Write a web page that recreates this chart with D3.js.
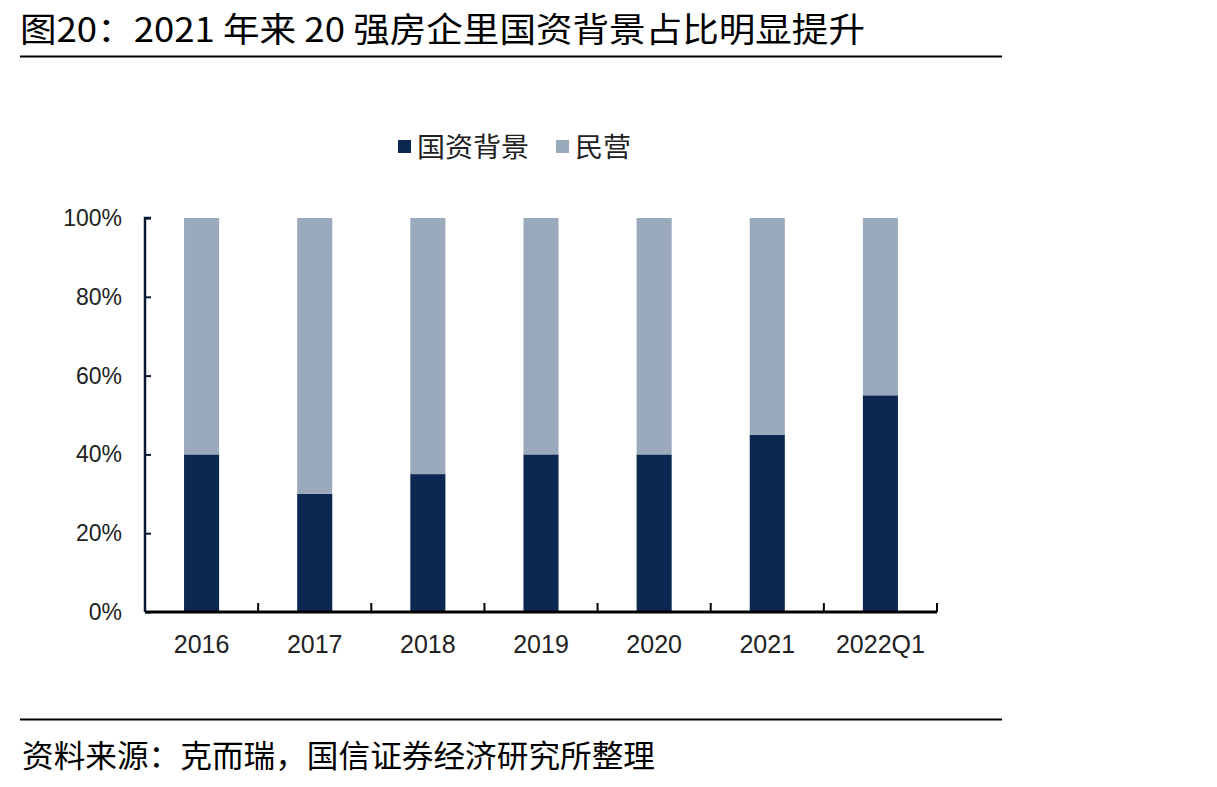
<!DOCTYPE html>
<html>
<head>
<meta charset="utf-8">
<script src="https://cdn.jsdelivr.net/npm/d3@7"></script>
<style>
  html, body { margin: 0; padding: 0; background: #fff; }
  svg { display: block; }
</style>
</head>
<body>
<svg id="chart"></svg>
<script>
const width = 1217;
const height = 787;

const categories = ["2016", "2017", "2018", "2019", "2020", "2021", "2022Q1"];
const stateOwned = [40, 30, 35, 40, 40, 45, 55];
const privateOwned = [60, 70, 65, 60, 60, 55, 45];
const yTicks = [0, 20, 40, 60, 80, 100];
const seriesNames = ["国资背景", "民营"];

const colors = { state: "#0b2752", priv: "#9aa9bb" };
const cjk = "'Noto Sans CJK SC', 'Noto Sans', sans-serif";
const num = "'Liberation Sans Narrow', 'Liberation Sans', Arial, sans-serif";

const svg = d3.select("#chart").attr("width", width).attr("height", height);

// title + rules
svg.append("text")
  .attr("x", 20).attr("y", 42)
  .attr("font-family", cjk).attr("font-size", 34)
  .attr("textLength", 845).attr("lengthAdjust", "spacingAndGlyphs")
  .attr("fill", "#000")
  .text("图20：2021 年来 20 强房企里国资背景占比明显提升");

svg.append("line")
  .attr("x1", 20).attr("x2", 1002).attr("y1", 56.5).attr("y2", 56.5)
  .attr("stroke", "#000").attr("stroke-width", 2);

svg.append("line")
  .attr("x1", 20).attr("x2", 1002).attr("y1", 719.5).attr("y2", 719.5)
  .attr("stroke", "#000").attr("stroke-width", 2);

svg.append("text")
  .attr("x", 22).attr("y", 767)
  .attr("font-family", cjk).attr("font-size", 31)
  .attr("textLength", 633).attr("lengthAdjust", "spacingAndGlyphs")
  .attr("fill", "#000")
  .text("资料来源：克而瑞，国信证券经济研究所整理");

// scales
const x = d3.scaleBand().domain(categories).range([145, 937]).paddingInner(0.69).paddingOuter(0.345);
const y = d3.scaleLinear().domain([0, 100]).range([612, 218]);

const data = categories.map((c, i) => ({ cat: c, state: stateOwned[i], priv: privateOwned[i] }));
const stacked = d3.stack().keys(["state", "priv"])(data);

const g = svg.append("g");
g.selectAll("g.series")
  .data(stacked)
  .join("g")
  .attr("fill", d => colors[d.key])
  .selectAll("rect")
  .data(d => d)
  .join("rect")
  .attr("x", d => x(d.data.cat))
  .attr("width", x.bandwidth())
  .attr("y", d => y(d[1]))
  .attr("height", d => y(d[0]) - y(d[1]));

// y axis
const yAxis = d3.axisRight(y).tickValues(yTicks).tickSize(6).tickFormat(() => "");
const ya = svg.append("g").attr("transform", "translate(145,0)").call(yAxis);
ya.select(".domain").attr("stroke", "#0b1a33").attr("stroke-width", 2.5).attr("d", "M6,218H0V612");
ya.selectAll(".tick line").attr("stroke", "#0b1a33").attr("stroke-width", 2);

svg.append("g").selectAll("text")
  .data(yTicks)
  .join("text")
  .attr("x", 122).attr("y", d => y(d) + 8)
  .attr("text-anchor", "end")
  .attr("font-family", num).attr("font-size", 23)
  .attr("fill", "#222")
  .text(d => d + "%");

// x axis with boundary ticks
const xb = d3.scaleLinear().domain([0, categories.length]).range([145, 937]);
const xa = svg.append("g");
xa.append("line")
  .attr("x1", 145).attr("x2", 937).attr("y1", 612).attr("y2", 612)
  .attr("stroke", "#000").attr("stroke-width", 3);
xa.selectAll("line.tk")
  .data(d3.range(1, categories.length + 1))
  .join("line")
  .attr("class", "tk")
  .attr("x1", d => xb(d)).attr("x2", d => xb(d))
  .attr("y1", 612).attr("y2", 603)
  .attr("stroke", "#000").attr("stroke-width", 2);

svg.append("g").selectAll("text")
  .data(categories)
  .join("text")
  .attr("x", d => x(d) + x.bandwidth() / 2)
  .attr("y", 653)
  .attr("text-anchor", "middle")
  .attr("font-family", num).attr("font-size", 25)
  .attr("fill", "#222")
  .text(d => d);

// legend
const legend = svg.append("g");
const legendItems = [
  { name: seriesNames[0], color: colors.state, x: 398, w: 112 },
  { name: seriesNames[1], color: colors.priv, x: 556, w: 56 }
];
legendItems.forEach(it => {
  legend.append("rect")
    .attr("x", it.x).attr("y", 140).attr("width", 13).attr("height", 13)
    .attr("fill", it.color);
  legend.append("text")
    .attr("x", it.x + 19).attr("y", 157)
    .attr("font-family", cjk).attr("font-size", 27)
    .attr("textLength", it.w).attr("lengthAdjust", "spacingAndGlyphs")
    .attr("fill", "#222")
    .text(it.name);
});
</script>
</body>
</html>
